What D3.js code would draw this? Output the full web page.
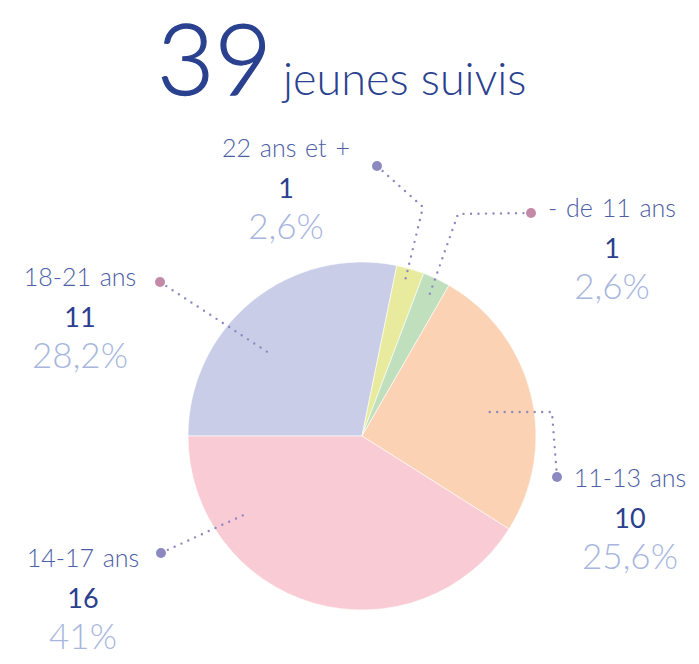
<!DOCTYPE html>
<html>
<head>
    <script src="https://d3js.org/d3.v7.min.js"></script>
    <style>
        body { margin: 0; background: #fff; }
        text { font-family: Lato, "Open Sans", sans-serif; }
        .lbl { font-size: 25px; font-weight: 300; fill: #4c5ea5; word-spacing: 2px; }
        .num { font-size: 27px; font-weight: 400; fill: #2b3f8f; }
        .pct { font-size: 35px; font-weight: 300; fill: #a8b6de; }
        .leader { fill: none; stroke-width: 2.4; stroke-linecap: round; stroke-dasharray: 0 7.5; }
    </style>
</head>
<body>
<div id="chart"></div>
<script>
// données
const total = 39;
const ages = ["18-21 ans", "22 ans et +", "- de 11 ans", "11-13 ans", "14-17 ans"];
const effectifs = [11, 1, 1, 10, 16];
const pourcents = ["28,2%", "2,6%", "2,6%", "25,6%", "41%"];
const couleurs = ["#c9cde7", "#e8eb9e", "#bfdfbd", "#fbd2b4", "#f9cbd4"];

// mise en page des étiquettes (texte centré x, ligne de base du libellé, tracé du trait)
const callouts = [
    {tx: 80,  ty: 286, dot: "#c38aa8", pts: [[160, 282], [272, 355]]},
    {tx: 286, ty: 157, dot: "#8c89c1", pts: [[377, 166], [423, 207], [405, 281]]},
    {tx: 612, ty: 217, dot: "#c38aa8", pts: [[531, 213], [458, 214], [429, 296]]},
    {tx: 630, ty: 487, dot: "#8c89c1", pts: [[557, 477], [552, 412], [484, 412]]},
    {tx: 83,  ty: 567, dot: "#8c89c1", pts: [[161, 553], [248, 513]]}
];

const W = 699, H = 664;
const cx = 362, cy = 436, R = 174;

const svg = d3.select("#chart").append("svg")
    .attr("width", W).attr("height", H);

// titre
svg.append("text")
    .attr("x", 157).attr("y", 95)
    .style("font-size", "99px").style("font-weight", 300)
    .attr("fill", "#2a418f")
    .attr("stroke", "#2a418f").attr("stroke-width", 1.3)
    .text(total);
svg.append("text")
    .attr("x", 283).attr("y", 95)
    .style("font-size", "45px").style("font-weight", 300)
    .attr("fill", "#2a418f")
    .text("jeunes suivis");

const rows = ages.map((a, i) => ({age: a, n: effectifs[i], pct: pourcents[i], color: couleurs[i], c: callouts[i]}));

const pie = d3.pie().sort(null).value(d => d.n)
    .startAngle(-Math.PI / 2).endAngle(1.5 * Math.PI);
const arc = d3.arc().innerRadius(0).outerRadius(R);

const g = svg.append("g").attr("transform", `translate(${cx},${cy})`);
g.selectAll("path.slice")
    .data(pie(rows))
    .enter().append("path")
    .attr("class", "slice")
    .attr("d", arc)
    .attr("fill", d => d.data.color)
    .attr("stroke", "#fff")
    .attr("stroke-width", 0.6);

// traits pointillés
const line = d3.line();
svg.selectAll("path.leader")
    .data(rows)
    .enter().append("path")
    .attr("class", "leader")
    .attr("d", d => line(d.c.pts))
    .attr("stroke", "#8c89c1");

svg.selectAll("circle.end")
    .data(rows)
    .enter().append("circle")
    .attr("cx", d => d.c.pts[0][0])
    .attr("cy", d => d.c.pts[0][1])
    .attr("r", 5)
    .attr("fill", d => d.c.dot);

// étiquettes
const lab = svg.selectAll("g.lab")
    .data(rows)
    .enter().append("g")
    .attr("class", "lab")
    .attr("text-anchor", "middle");
lab.append("text").attr("class", "lbl")
    .attr("x", d => d.c.tx).attr("y", d => d.c.ty)
    .text(d => d.age);
lab.append("text").attr("class", "num")
    .attr("x", d => d.c.tx).attr("y", d => d.c.ty + 41)
    .text(d => d.n);
lab.append("text").attr("class", "pct")
    .attr("x", d => d.c.tx).attr("y", d => d.c.ty + 82)
    .text(d => d.pct);
</script>
</body>
</html>
